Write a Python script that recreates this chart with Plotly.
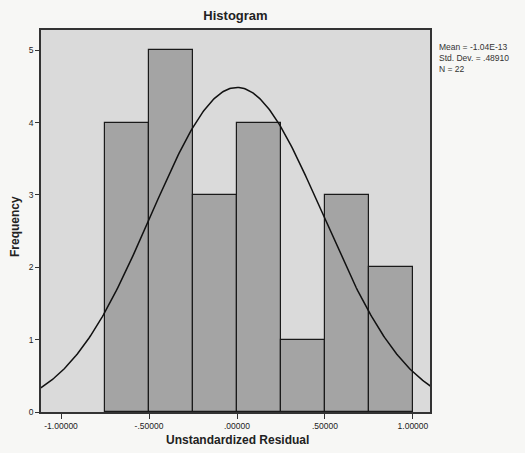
import numpy as np
import plotly.graph_objects as go

bin_centers = [-0.625, -0.375, -0.125, 0.125, 0.375, 0.625, 0.875]
frequencies = [4, 5, 3, 4, 1, 3, 2]
bin_width = 0.25
mean = -1.04e-13
std_dev = 0.48910
n_obs = 22
x_tick_vals = [-1.0, -0.5, 0.0, 0.5, 1.0]
x_tick_text = ["-1.00000", "-.50000", ".00000", ".50000", "1.00000"]
y_tick_vals = [0, 1, 2, 3, 4, 5]

xs = np.linspace(-1.115, 1.10, 300)
ys = n_obs * bin_width / (std_dev * np.sqrt(2 * np.pi)) * np.exp(-0.5 * ((xs - mean) / std_dev) ** 2)

L, R, T, B = 41, 95, 30, 41
W, H = 525, 453
pw, ph = W - L - R, H - T - B

fig = go.Figure()
fig.add_trace(go.Bar(x=bin_centers, y=frequencies, width=bin_width,
                     marker=dict(color="#a4a4a4", line=dict(color="#1a1a1a", width=1.2)),
                     showlegend=False, hoverinfo="skip"))
fig.add_trace(go.Scatter(x=xs, y=ys, mode="lines", line=dict(color="#111111", width=1.5),
                         showlegend=False, hoverinfo="skip"))

fig.update_layout(
    width=W, height=H,
    margin=dict(l=L, r=R, t=T, b=B),
    paper_bgcolor="#f7f7f5",
    plot_bgcolor="#dadada",
    bargap=0,
    font=dict(family="Liberation Sans, Arial", color="#222"),
    title=dict(text="<b>Histogram</b>", x=(L + W - R) / 2 / W, xanchor="center",
               y=1 - 15 / H, yanchor="middle", font=dict(size=13)),
    xaxis=dict(range=[-1.114, 1.097], tickvals=x_tick_vals, ticktext=x_tick_text,
               ticks="outside", ticklen=5, tickcolor="#333", showgrid=False, zeroline=False,
               showline=True, linecolor="#333", linewidth=1.5, mirror=True,
               tickfont=dict(size=8.5), automargin=False),
    yaxis=dict(range=[0, 5.28], tickvals=y_tick_vals, ticks="outside", ticklen=4,
               tickcolor="#333", showgrid=False, zeroline=False,
               showline=True, linecolor="#333", linewidth=1.5, mirror=True,
               tickfont=dict(size=8.5), automargin=False),
    annotations=[
        dict(text="Mean = -1.04E-13<br>Std. Dev. = .48910<br>N = 22",
             xref="paper", yref="paper", x=(437 - L) / pw, y=(H - B - 40) / ph,
             xanchor="left", yanchor="top", showarrow=False, align="left",
             font=dict(size=8.5, color="#333")),
        dict(text="<b>Unstandardized Residual</b>", xref="paper", yref="paper",
             x=(237 - L) / pw, y=-(440 - (H - B)) / ph,
             xanchor="center", yanchor="middle", showarrow=False, font=dict(size=12)),
        dict(text="<b>Frequency</b>", xref="paper", yref="paper",
             x=-(L - 15) / pw, y=(H - B - 227) / ph, textangle=-90,
             xanchor="center", yanchor="middle", showarrow=False, font=dict(size=12)),
    ],
)

fig.write_html("out.html", config={"displayModeBar": False},
               post_script="document.body.style.margin='0';document.body.style.padding='0';")
